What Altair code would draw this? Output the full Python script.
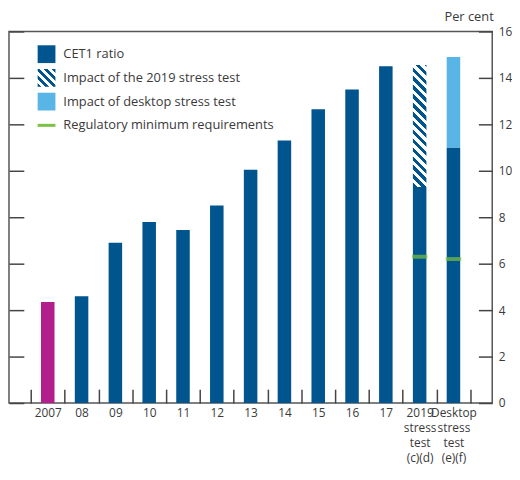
import math
import altair as alt
import pandas as pd

# ---------------- data ----------------
categories = ["2007", "08", "09", "10", "11", "12", "13", "14", "15", "16", "17",
              "2019\nstress\ntest\n(c)(d)", "Desktop\nstress\ntest\n(e)(f)"]
cet1_ratio = [4.35, 4.6, 6.9, 7.8, 7.45, 8.5, 10.05, 11.3, 12.65, 13.5, 14.5, 9.3, 11.0]
stress_2019_top = 14.55
desktop_top = 14.9
reg_min_values = [6.3, 6.2]
legend_labels = ["CET1 ratio", "Impact of the 2019 stress test",
                 "Impact of desktop stress test", "Regulatory minimum requirements"]
y_ticks = [0, 2, 4, 6, 8, 10, 12, 14, 16]

# ---------------- style ----------------
FONT = "Open Sans"
TXT = "#3a3a3a"
DARK = "#00558f"
MAGENTA = "#b21f8c"
LIGHT = "#58b5e6"
GREEN = "#7bc143"
W, H = 489, 376
P_OUT = 0.647
BAR_FRAC = 0.4
step = W / (len(categories) + 2 * P_OUT)
bw = round(step * BAR_FRAC, 2)
ppu = H / 16.0
NB = "\u00a0"


def hatch(w, h, period=9.0, color=DARK):
    k = (w + h) / (w * w + h * h)
    n = (w + h) / period
    stops = []
    i = 0
    while i / n < 1:
        a = i / n
        b = min((i + 0.5) / n, 1.0)
        c = min((i + 1) / n, 1.0)
        stops += [{"offset": a, "color": color}, {"offset": b, "color": color}]
        if b < 1:
            stops += [{"offset": b, "color": "white"}, {"offset": c, "color": "white"}]
        i += 1
    return {"gradient": "linear", "x1": 0, "y1": 1, "x2": k * w, "y2": 1 - k * h,
            "stops": stops}


base_df = pd.DataFrame({"cat": categories, "val": cet1_ratio})
hatch_df = pd.DataFrame({"cat": [categories[11]], "lo": [cet1_ratio[11]], "hi": [stress_2019_top]})
desk_df = pd.DataFrame({"cat": [categories[12]], "lo": [cet1_ratio[12]], "hi": [desktop_top]})
reg_df = pd.DataFrame({"cat": categories[11:], "val": reg_min_values})

pre = NB * 4
post = NB * 3
label_expr = (
    "indexof(datum.label, 'Desktop') >= 0 ? "
    f"split('{pre}' + replace(datum.label, regexp('\\n', 'g'), '\\n{pre}'), '\\n') : "
    "indexof(datum.label, '2019') >= 0 ? "
    f"split(replace(datum.label, regexp('\\n', 'g'), '{post}\\n') + '{post}', '\\n') : "
    "split(datum.label, '\\n')"
)

x_enc = alt.X(
    "cat:N", sort=categories, title=None,
    scale=alt.Scale(domain=categories, paddingInner=0, paddingOuter=P_OUT),
    axis=alt.Axis(labelAngle=0, labelExpr=label_expr, tickBand="extent",
                  tickSize=14, offset=-14, domain=False, labelPadding=5,
                  labelFont=FONT, labelFontSize=12, labelColor=TXT, labelLineHeight=15,
                  tickColor="#444", tickWidth=1.5, grid=False),
)
y_scale = alt.Scale(domain=[0, 16], nice=False, zero=True)

bars = alt.Chart(base_df).mark_bar(width=bw).encode(
    x=x_enc,
    y=alt.Y("val:Q", scale=y_scale, title=None,
            axis=alt.Axis(orient="left", offset=-15, tickSize=15, labels=False,
                          domain=False, values=y_ticks, grid=False,
                          tickColor="#444", tickWidth=1.5)),
    color=alt.condition(alt.datum.cat == "2007", alt.value(MAGENTA), alt.value(DARK)),
)

hatch_bar = alt.Chart(hatch_df).mark_bar(
    width=bw,
    fill=hatch(bw, (stress_2019_top - cet1_ratio[11]) * ppu)
).encode(
    x=x_enc,
    y=alt.Y("lo:Q", scale=y_scale, title="Per cent",
            axis=alt.Axis(orient="right", offset=-14, tickSize=14, values=y_ticks,
                          domain=False, grid=False, labelPadding=6,
                          labelFont=FONT, labelFontSize=12, labelColor=TXT,
                          tickColor="#444", tickWidth=1.5,
                          titleAngle=0, titleAlign="right", titleBaseline="alphabetic",
                          titleX=15, titleY=-11, titleFont=FONT, titleFontSize=13,
                          titleFontWeight="normal", titleColor=TXT)),
    y2="hi:Q",
)

desk_bar = alt.Chart(desk_df).mark_bar(width=bw, color=LIGHT).encode(
    x=x_enc,
    y=alt.Y("lo:Q", scale=y_scale, axis=None),
    y2="hi:Q",
)

reg = alt.Chart(reg_df).mark_tick(color=GREEN, thickness=4, size=bw + 2).encode(
    x=x_enc,
    y=alt.Y("val:Q", scale=y_scale, axis=None),
)

# ---------------- custom legend ----------------
one = pd.DataFrame({"k": [0]})
leg_x0, leg_x1, text_x = 29, 47, 55
rows = [23, 47, 71, 95]
half = 9

leg_layers = [
    alt.Chart(one).mark_rect(color=DARK).encode(
        x=alt.value(leg_x0), x2=alt.value(leg_x1),
        y=alt.value(rows[0] - half), y2=alt.value(rows[0] + half)),
    alt.Chart(one).mark_rect(fill=hatch(18, 18, period=8.0)).encode(
        x=alt.value(leg_x0), x2=alt.value(leg_x1),
        y=alt.value(rows[1] - half), y2=alt.value(rows[1] + half)),
    alt.Chart(one).mark_rect(color=LIGHT).encode(
        x=alt.value(leg_x0), x2=alt.value(leg_x1),
        y=alt.value(rows[2] - half), y2=alt.value(rows[2] + half)),
    alt.Chart(one).mark_rule(color=GREEN, strokeWidth=3).encode(
        x=alt.value(leg_x0), x2=alt.value(leg_x1), y=alt.value(rows[3])),
]
for lab, ry in zip(legend_labels, rows):
    leg_layers.append(
        alt.Chart(pd.DataFrame({"label": [lab]})).mark_text(
            align="left", baseline="middle", font=FONT, fontSize=13, color=TXT
        ).encode(x=alt.value(text_x), y=alt.value(ry), text="label:N")
    )

chart = alt.layer(bars, hatch_bar, desk_bar, reg, *leg_layers).resolve_axis(
    y="independent"
).properties(
    width=W, height=H,
    padding={"left": 0, "top": 0, "right": 0, "bottom": 0},
).configure_view(stroke="#555", strokeWidth=1.5)

chart.save("out.html", embed_options={"renderer": "svg", "actions": False})
